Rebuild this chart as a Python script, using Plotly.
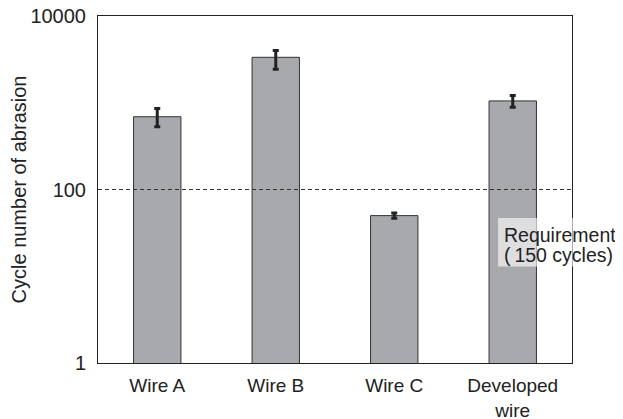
import plotly.graph_objects as go

categories = ["Wire A", "Wire B", "Wire C", "Developed<br>wire"]
cycles = [690, 3340, 50, 1050]
err_plus = [170, 650, 3.5, 160]
err_minus = [160, 900, 3.5, 165]
requirement_line = 100
requirement_lines = ["Requirement", "(\u2009150 cycles)"]
tick_vals = [1, 100, 10000]
tick_text = ["1", "100", "10000"]

FONT = "Liberation Sans, Arial, Helvetica"

fig = go.Figure()
fig.add_trace(go.Bar(
    x=categories, y=cycles,
    marker=dict(color="#a8a9ad", line=dict(color="#333333", width=1)),
    error_y=dict(type="data", symmetric=False, array=err_plus, arrayminus=err_minus,
                 color="#222222", thickness=3, width=3),
))
fig.add_shape(type="line", xref="paper", x0=0, x1=1, yref="y",
              y0=requirement_line, y1=requirement_line,
              line=dict(color="#333333", width=1, dash="4px,3px"))
# translucent label box
fig.add_shape(type="rect", xref="paper", yref="paper", x0=0.844, x1=1.11, y0=0.278, y1=0.418,
              fillcolor="rgba(255,255,255,0.62)", line=dict(width=0), layer="above")
for txt, yy in zip(requirement_lines, [0.369, 0.311]):
    fig.add_annotation(xref="paper", yref="paper", x=0.852, y=yy,
                       xanchor="left", yanchor="middle", align="left",
                       text=txt, showarrow=False,
                       font=dict(family=FONT, size=19.5, color="#222222"))
fig.update_layout(
    width=623, height=419,
    margin=dict(l=90, r=59, t=8, b=64),
    paper_bgcolor="white", plot_bgcolor="white",
    bargap=0.6, showlegend=False,
    font=dict(family=FONT, size=20, color="#222222"),
)
fig.update_xaxes(showline=True, linecolor="#222222", linewidth=1, mirror=True,
                 ticks="", showgrid=False, tickfont=dict(size=19), automargin=False,
                 ticklabelstandoff=5, ticklabeloverflow="allow")
fig.update_yaxes(type="log", range=[0, 4], tickvals=tick_vals, ticktext=tick_text,
                 showline=True, linecolor="#222222", linewidth=1, mirror=True,
                 ticks="", showgrid=False, tickfont=dict(size=20), automargin=False,
                 ticklabelstandoff=7, ticklabeloverflow="allow",
                 title=dict(text="Cycle number of abrasion", font=dict(size=20), standoff=4))
fig.write_html("out.html")
